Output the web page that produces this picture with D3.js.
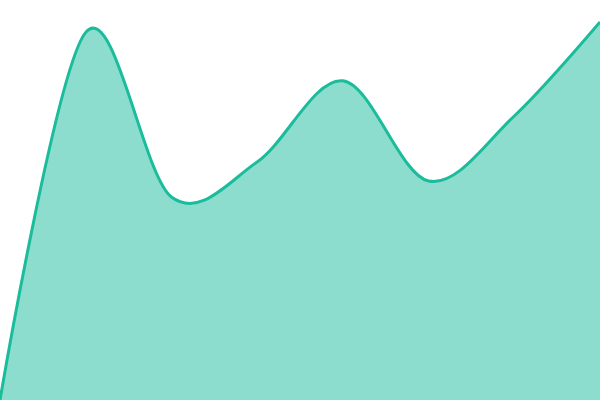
<!DOCTYPE html>
<html>
<head>
<meta charset="utf-8">
<script src="https://cdn.jsdelivr.net/npm/d3@7"></script>
<style>
  html, body { margin: 0; padding: 0; background: #fff; }
  svg { display: block; }
</style>
</head>
<body>
<script>
// data (evenly spaced points, no axes shown)
const categories = ['1', '2', '3', '4', '5', '6', '7', '8'];
const values = [0, 91.9, 50.75, 59.5, 79.8, 54.75, 71, 94.5];

const width = 600, height = 400;

const svg = d3.select(document.body).append('svg')
  .attr('width', width)
  .attr('height', height);

const x = d3.scalePoint().domain(categories).range([0, width]);
const y = d3.scaleLinear().domain([0, 100]).range([height, 0]);

const data = categories.map((c, i) => ({c, v: values[i]}));

const area = d3.area()
  .x(d => x(d.c))
  .y0(height)
  .y1(d => y(d.v))
  .curve(d3.curveCardinal);

const line = d3.line()
  .x(d => x(d.c))
  .y(d => y(d.v))
  .curve(d3.curveCardinal);

svg.append('path')
  .datum(data)
  .attr('d', area)
  .attr('fill', '#1abc9c')
  .attr('fill-opacity', 0.5);

svg.append('path')
  .datum(data)
  .attr('d', line)
  .attr('fill', 'none')
  .attr('stroke', '#1abc9c')
  .attr('stroke-width', 3);
</script>
</body>
</html>
